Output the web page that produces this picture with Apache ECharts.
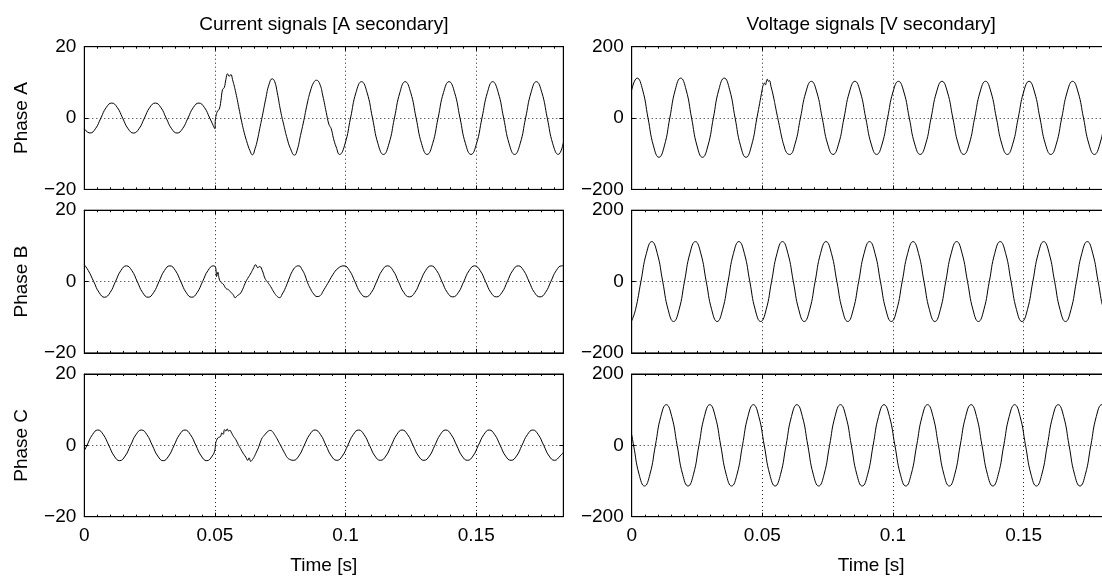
<!DOCTYPE html>
<html><head><meta charset="utf-8">
<script src="https://cdn.jsdelivr.net/npm/echarts@6/dist/echarts.min.js"></script>
<style>html,body{margin:0;padding:0;background:#fff;overflow:hidden}#c{width:1120px;height:580px}</style>
</head><body><div id="c"></div>
<script>
// ---- labels / ticks ----
const columnTitles = ['Current signals [A secondary]', 'Voltage signals [V secondary]'];
const phaseNames = ['Phase A', 'Phase B', 'Phase C'];
const xAxisName = 'Time [s]';
const xTickLabels = [0, 0.05, 0.1, 0.15];
const xRange = [0, 0.18333];
const xMajorStep = 0.05, xMinorStep = 0.005;
const currentTicks = [-20, 0, 20];
const voltageTicks = [-200, 0, 200];

// ---- current signals [t (s), A secondary] ----
const currentA = [
[0,-3.0],[0.00218,-4.2],[0.00426,-3.0],[0.00634,0],[0.00843,3.0],[0.0105,4.2],[0.01259,3.0],[0.01467,0],
[0.01676,-3.0],[0.01884,-4.2],[0.02093,-3.0],[0.02301,0],[0.02509,3.0],[0.02718,4.2],[0.02926,3.0],[0.03134,0],
[0.03343,-3.0],[0.03551,-4.2],[0.03759,-3.0],[0.03968,0],[0.04176,3.0],[0.04384,4.2],[0.04593,3.0],[0.04801,0],
[0.0500,-3.0],[0.05015,-0.5],[0.05038,0.5],[0.05102,2.0],[0.05165,2.5],[0.05228,4.8],[0.05292,8.0],[0.05355,8.5],
[0.05419,10.8],[0.05482,12.4],[0.05546,11.7],[0.05609,12.2],[0.05673,10.8],[0.05799,7.1],[0.05926,2.5],[0.06028,-1.2],
[0.06117,-4.0],[0.06244,-7.2],[0.06332,-9.0],[0.06434,-10.3],[0.06535,-8.6],[0.06624,-6.2],[0.06713,-3.0],[0.06815,0.6],
[0.06942,5.3],[0.07069,9.4],[0.07195,11.0],[0.07284,10.3],[0.07386,7.1],[0.07513,2.0],[0.0764,-2.1],[0.07766,-5.8],
[0.07893,-8.6],[0.08046,-10.4],[0.08147,-9.0],[0.08274,-4.9],[0.08401,-0.7],[0.08528,3.9],[0.08655,7.6],[0.08782,10.0],
[0.08883,10.6],[0.0901,9.6],[0.0913,6.2],[0.0926,1.6],[0.0936,-1.7],[0.0945,-3.0],[0.0954,-5.8],[0.0964,-8.1],[0.0977,-10.2],
[0.0998,-7.2],[0.1019,0],[0.1040,7.2],[0.1061,10.2],[0.1082,7.2],[0.1103,0],[0.1124,-7.2],[0.1145,-10.2],
[0.1166,-7.2],[0.1187,0],[0.1208,7.2],[0.1228,10.2],[0.1249,7.2],[0.1270,0],[0.1291,-7.2],[0.1312,-10.2],
[0.1333,-7.2],[0.1354,0],[0.1375,7.2],[0.1396,10.2],[0.1417,7.2],[0.1438,0],[0.1459,-7.2],[0.1480,-10.2],
[0.1501,-7.2],[0.1522,0],[0.1543,7.2],[0.1563,10.2],[0.1584,7.2],[0.1605,0],[0.1626,-7.2],[0.1647,-10.2],
[0.1668,-7.2],[0.1689,0],[0.1710,7.2],[0.1730,10.2],[0.1751,7.2],[0.1772,0],[0.1793,-7.2],[0.1814,-10.2],[0.18333,-7.0]
];
const currentB = [
[0,4.7],[0.00152,3.1],[0.0036,0],[0.00569,-3.1],[0.00777,-4.4],[0.00985,-3.1],[0.01193,0],[0.01402,3.1],
[0.0161,4.4],[0.01818,3.1],[0.02027,0],[0.02235,-3.1],[0.02443,-4.4],[0.02652,-3.1],[0.0286,0],[0.03068,3.1],
[0.03277,4.4],[0.03485,3.1],[0.03693,0],[0.03902,-3.1],[0.0411,-4.4],[0.04318,-3.1],[0.04527,0],[0.04735,3.1],
[0.04943,4.4],[0.0500,4.2],[0.05038,3.5],[0.05063,1.4],[0.05114,2.6],[0.05165,0.7],[0.05228,-0.2],[0.05317,-0.7],
[0.05419,-1.9],[0.0552,-2.3],[0.05609,-3.0],[0.05698,-3.7],[0.05774,-4.5],[0.05863,-3.9],[0.05952,-3.5],[0.06053,-2.3],
[0.06155,-0.5],[0.06256,0.9],[0.06358,2.1],[0.06459,3.5],[0.06561,4.7],[0.06637,3.9],[0.06713,4.2],[0.06815,3.0],
[0.06916,0.9],[0.07018,-0.2],[0.07132,-1.4],[0.07259,-3.0],[0.07386,-4.2],[0.07475,-4.5],[0.07576,-3.5],[0.07703,-1.7],
[0.0783,0.7],[0.07957,2.8],[0.08084,4.1],[0.08211,4.4],[0.08338,3.3],[0.08439,1.9],[0.0854,-0.2],[0.08655,-2.0],
[0.08782,-3.5],[0.08909,-4.2],[0.09036,-3.9],[0.0913,-2.8],[0.0932,-0.5],[0.0951,1.9],[0.0971,3.7],
[0.0994,4.4],[0.10148,3.1],[0.10357,0],[0.10565,-3.1],[0.10773,-4.3],[0.10982,-3.1],[0.1119,0],[0.11398,3.1],
[0.11607,4.4],[0.11815,3.1],[0.12023,0],[0.12232,-3.1],[0.1244,-4.3],[0.12648,-3.1],[0.12857,0],[0.13065,3.1],
[0.13273,4.4],[0.13482,3.1],[0.1369,0],[0.13898,-3.1],[0.14107,-4.3],[0.14315,-3.1],[0.14523,0],[0.14732,3.1],
[0.1494,4.4],[0.15148,3.1],[0.15357,0],[0.15565,-3.1],[0.15773,-4.3],[0.15982,-3.1],[0.1619,0],[0.16398,3.1],
[0.16607,4.4],[0.16815,3.1],[0.17023,0],[0.17232,-3.1],[0.1744,-4.3],[0.17648,-3.1],[0.17857,0],[0.18065,3.1],
[0.18273,4.4],[0.18333,4.4]
];
const currentC = [
[0,-1.5],[0.00103,0],[0.00312,3.0],[0.0052,4.3],[0.00728,3.0],[0.00937,0],[0.01145,-3.0],[0.01353,-4.3],
[0.01562,-3.0],[0.0177,0],[0.01978,3.0],[0.02187,4.3],[0.02395,3.0],[0.02603,0],[0.02812,-3.0],[0.0302,-4.3],
[0.03228,-3.0],[0.03437,0],[0.03645,3.0],[0.03853,4.3],[0.04062,3.0],[0.0427,0],[0.04478,-3.0],[0.04687,-4.3],
[0.04895,-3.0],[0.0500,-1.2],[0.05025,0.5],[0.05063,1.4],[0.05114,2.1],[0.05165,2.3],[0.05216,2.5],[0.05266,3.5],
[0.05317,3.1],[0.05368,4.4],[0.05419,4.0],[0.0547,4.6],[0.0552,4.0],[0.05571,4.2],[0.05635,3.5],[0.05711,2.5],
[0.05799,1.6],[0.05888,0.3],[0.05977,-0.9],[0.06079,-2.2],[0.0618,-3.3],[0.06256,-4.2],[0.06307,-3.5],[0.0637,-4.5],
[0.06434,-4.0],[0.0651,-3.1],[0.06586,-1.9],[0.06662,-0.7],[0.06739,0.9],[0.06815,2.2],[0.06891,2.8],[0.06967,3.5],
[0.07043,4.0],[0.0712,4.2],[0.07195,3.9],[0.07272,3.1],[0.07373,1.9],[0.07475,0.5],[0.07576,-0.9],[0.07678,-2.3],
[0.07779,-3.5],[0.0788,-4.0],[0.08,-4.2],[0.08208,-3.0],[0.08417,0],[0.08625,3.0],[0.08833,4.3],[0.09042,3.0],
[0.0925,0],[0.09458,-3.0],[0.09667,-4.2],[0.09875,-3.0],[0.10083,0],[0.10292,3.0],[0.105,4.3],[0.10708,3.0],
[0.10917,0],[0.11125,-3.0],[0.11333,-4.2],[0.11542,-3.0],[0.1175,0],[0.11958,3.0],[0.12167,4.3],[0.12375,3.0],
[0.12583,0],[0.12792,-3.0],[0.13,-4.2],[0.13208,-3.0],[0.13417,0],[0.13625,3.0],[0.13833,4.3],[0.14042,3.0],
[0.1425,0],[0.14458,-3.0],[0.14667,-4.2],[0.14875,-3.0],[0.15083,0],[0.15292,3.0],[0.155,4.3],[0.15708,3.0],
[0.15917,0],[0.16125,-3.0],[0.16333,-4.2],[0.16542,-3.0],[0.1675,0],[0.16958,3.0],[0.17167,4.3],[0.17375,3.0],
[0.17583,0],[0.17792,-3.0],[0.18,-4.2],[0.18208,-3.0],[0.18333,-2.0]
];

// ---- voltage signals [t (s), V secondary] ----
const voltageA = [
[0,79],[0.00208,112],[0.00417,79],[0.00625,0],[0.00833,-78],[0.01042,-110],[0.0125,-78],[0.01458,0],
[0.01667,79],[0.01875,112],[0.02083,79],[0.02292,0],[0.025,-78],[0.02708,-110],[0.02917,-78],[0.03125,0],
[0.03333,79],[0.03542,112],[0.0375,79],[0.03958,0],[0.04167,-78],[0.04375,-110],[0.04583,-78],[0.04792,0],
[0.05,82],[0.0503,92],[0.0508,98],[0.0512,93],[0.0516,104],[0.0519,109],[0.0523,103],[0.0527,105],[0.0533,89],
[0.0542,62],[0.0552,25],[0.0565,-21],[0.0574,-53],[0.0583,-78],[0.0593,-97],[0.06042,-102],
[0.0625,-73],[0.06458,0],[0.06667,73],[0.06875,103],[0.07083,73],[0.07292,0],[0.075,-73],[0.07708,-102],
[0.07917,-73],[0.08125,0],[0.08333,73],[0.08542,103],[0.0875,73],[0.08958,0],[0.09167,-73],[0.09375,-102],
[0.09583,-73],[0.09792,0],[0.1,73],[0.10208,103],[0.10417,73],[0.10625,0],[0.10833,-73],[0.11042,-102],
[0.1125,-73],[0.11458,0],[0.11667,73],[0.11875,103],[0.12083,73],[0.12292,0],[0.125,-73],[0.12708,-102],
[0.12917,-73],[0.13125,0],[0.13333,73],[0.13542,103],[0.1375,73],[0.13958,0],[0.14167,-73],[0.14375,-102],
[0.14583,-73],[0.14792,0],[0.15,73],[0.15208,103],[0.15417,73],[0.15625,0],[0.15833,-73],[0.16042,-102],
[0.1625,-73],[0.16458,0],[0.16667,73],[0.16875,103],[0.17083,73],[0.17292,0],[0.175,-73],[0.17708,-102],
[0.17917,-73],[0.18125,0],[0.18333,73]
];
const voltageB = [
[0,-110],[0.00145,-79],[0.00353,0],[0.00562,79],[0.0077,112],[0.00978,79],[0.01187,0],[0.01395,-79],
[0.01603,-112],[0.01812,-79],[0.0202,0],[0.02228,79],[0.02437,112],[0.02645,79],[0.02853,0],[0.03062,-79],
[0.0327,-112],[0.03478,-79],[0.03687,0],[0.03895,79],[0.04103,112],[0.04312,79],[0.0452,0],[0.04728,-79],
[0.04937,-112],[0.05145,-79],[0.05353,0],[0.05562,79],[0.0577,112],[0.05978,79],[0.06187,0],[0.06395,-79],
[0.06603,-112],[0.06812,-79],[0.0702,0],[0.07228,79],[0.07437,112],[0.07645,79],[0.07853,0],[0.08062,-79],
[0.0827,-112],[0.08478,-79],[0.08687,0],[0.08895,79],[0.09103,112],[0.09312,79],[0.0952,0],[0.09728,-79],
[0.09937,-112],[0.10145,-79],[0.10353,0],[0.10562,79],[0.1077,112],[0.10978,79],[0.11187,0],[0.11395,-79],
[0.11603,-112],[0.11812,-79],[0.1202,0],[0.12228,79],[0.12437,112],[0.12645,79],[0.12853,0],[0.13062,-79],
[0.1327,-112],[0.13478,-79],[0.13687,0],[0.13895,79],[0.14103,112],[0.14312,79],[0.1452,0],[0.14728,-79],
[0.14937,-112],[0.15145,-79],[0.15353,0],[0.15562,79],[0.1577,112],[0.15978,79],[0.16187,0],[0.16395,-79],
[0.16603,-112],[0.16812,-79],[0.1702,0],[0.17228,79],[0.17437,112],[0.17645,79],[0.17853,0],[0.18062,-79],
[0.1827,-112],[0.18333,-111]
];
const voltageC = [
[0,30],[0.00073,0],[0.00282,-81],[0.0049,-114],[0.00698,-81],[0.00907,0],[0.01115,81],[0.01323,114],
[0.01532,81],[0.0174,0],[0.01948,-81],[0.02157,-114],[0.02365,-81],[0.02573,0],[0.02782,81],[0.0299,114],
[0.03198,81],[0.03407,0],[0.03615,-81],[0.03823,-114],[0.04032,-81],[0.0424,0],[0.04448,81],[0.04657,114],
[0.04865,81],[0.05073,0],[0.05282,-81],[0.0549,-114],[0.05698,-81],[0.05907,0],[0.06115,81],[0.06323,114],
[0.06532,81],[0.0674,0],[0.06948,-81],[0.07157,-114],[0.07365,-81],[0.07573,0],[0.07782,81],[0.0799,114],
[0.08198,81],[0.08407,0],[0.08615,-81],[0.08823,-114],[0.09032,-81],[0.0924,0],[0.09448,81],[0.09657,114],
[0.09865,81],[0.10073,0],[0.10282,-81],[0.1049,-114],[0.10698,-81],[0.10907,0],[0.11115,81],[0.11323,114],
[0.11532,81],[0.1174,0],[0.11948,-81],[0.12157,-114],[0.12365,-81],[0.12573,0],[0.12782,81],[0.1299,114],
[0.13198,81],[0.13407,0],[0.13615,-81],[0.13823,-114],[0.14032,-81],[0.1424,0],[0.14448,81],[0.14657,114],
[0.14865,81],[0.15073,0],[0.15282,-81],[0.1549,-114],[0.15698,-81],[0.15907,0],[0.16115,81],[0.16323,114],
[0.16532,81],[0.1674,0],[0.16948,-81],[0.17157,-114],[0.17365,-81],[0.17573,0],[0.17782,81],[0.1799,114],
[0.18333,57]
];

// ---- build chart ----
const FONT = '"Liberation Sans", Arial, Helvetica, sans-serif';
const FS = 19;
const colLeft = [84.3, 631.7], plotW = 479;
const rowTop = [46.7, 210.2, 374], plotH = 142.7;
const panels = [
  {row:0,col:0,data:currentA,ticks:currentTicks},{row:1,col:0,data:currentB,ticks:currentTicks},{row:2,col:0,data:currentC,ticks:currentTicks},
  {row:0,col:1,data:voltageA,ticks:voltageTicks},{row:1,col:1,data:voltageB,ticks:voltageTicks},{row:2,col:1,data:voltageC,ticks:voltageTicks}
];
const dotted = {color:'#222', width:1, type:[1,3]};
const grid=[], xAxis=[], yAxis=[], series=[];
const noLabel = {show:false}, noSplit = {show:false};
panels.forEach((p,g)=>{
  grid.push({left:colLeft[p.col], top:rowTop[p.row], width:plotW, height:plotH, show:true, borderColor:'#000', borderWidth:1, backgroundColor:'transparent'});
  const xAx = (pos, step, len, extra) => Object.assign({type:'value', gridIndex:g, position:pos, min:xRange[0], max:xRange[1], interval:step,
    axisLine:{show:true,onZero:false,lineStyle:{color:'#000',width:1}},
    axisTick:{show:true,inside:true,length:len,lineStyle:{color:'#000'}},
    axisLabel:noLabel, splitLine:noSplit}, extra||{});
  const base = xAxis.length;
  xAxis.push(xAx('bottom', xMajorStep, 4, {
    axisLabel:{show:p.row===2, color:'#000', fontSize:FS, fontFamily:FONT, margin:10, showMaxLabel:false,
      formatter:v=>{const r=Math.round(v*1000)/1000; return xTickLabels.includes(r)?String(r):'';}},
    splitLine:{show:true, lineStyle:dotted}}));
  xAxis.push(xAx('top', xMajorStep, 4));
  xAxis.push(xAx('bottom', xMinorStep, 2));
  xAxis.push(xAx('top', xMinorStep, 2));
  const yMin=p.ticks[0], yMax=p.ticks[p.ticks.length-1], yInt=p.ticks[1]-p.ticks[0];
  const yBase = {type:'value', gridIndex:g, min:yMin, max:yMax, interval:yInt,
    axisLine:{show:true,onZero:false,lineStyle:{color:'#000',width:1}},
    axisTick:{show:true,inside:true,length:4,lineStyle:{color:'#000'}}};
  yAxis.push(Object.assign({}, yBase, {position:'left',
    axisLabel:{show:true,color:'#000',fontSize:FS,fontFamily:FONT,margin:8, formatter:v=>String(v).replace('-','\u2212')},
    splitLine:{show:true,lineStyle:dotted}}));
  yAxis.push(Object.assign({}, yBase, {position:'right', axisLabel:noLabel, splitLine:noSplit}));
  series.push({type:'line', xAxisIndex:base, yAxisIndex:2*g, data:p.data, showSymbol:false, smooth:0.5,
    lineStyle:{color:'#000',width:1}, silent:true, z:5});
});
const graphic=[];
const txt=(x,y,s,rot)=>graphic.push({type:'text', x:x, y:y, rotation:rot||0, silent:true,
  style:{text:s, fill:'#000', font:FS+'px '+FONT, textAlign:'center', textVerticalAlign:'middle'}});
columnTitles.forEach((s,i)=>txt(colLeft[i]+plotW/2, 25, s));
[0,1].forEach(i=>txt(colLeft[i]+plotW/2, 566, xAxisName));
phaseNames.forEach((s,i)=>txt(22, rowTop[i]+plotH/2, s, Math.PI/2));

const chart = echarts.init(document.getElementById('c'), null, {renderer:'canvas'});
chart.setOption({animation:false, backgroundColor:'#fff', grid, xAxis, yAxis, series, graphic});
</script></body></html>
